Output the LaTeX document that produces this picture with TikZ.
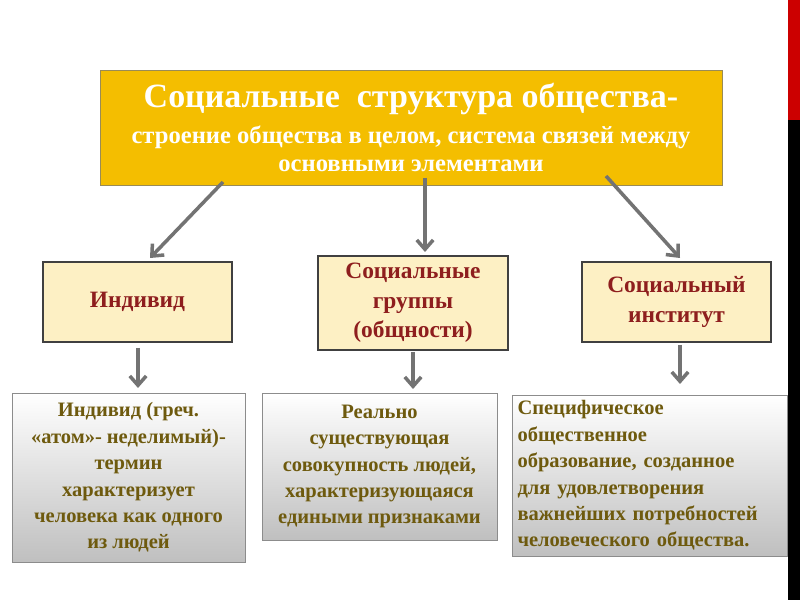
\documentclass[tikz,border=0pt]{standalone}
\usepackage{fontspec}
\setmainfont{Liberation Serif}
\usetikzlibrary{arrows.meta}
\definecolor{gold}{HTML}{F4BE00}
\definecolor{cream}{HTML}{FDF0C4}
\definecolor{wine}{HTML}{8E1E1E}
\definecolor{olive}{HTML}{6E5A0E}
\definecolor{arrowgray}{HTML}{737373}
\tikzset{
  head/.style={draw=olive!70, line width=0.8pt, fill=gold, text=white, font=\bfseries\fontsize{21}{24}\selectfont, align=center, inner sep=0pt},
  part/.style={draw=black!75, line width=1pt, fill=cream, text=wine, font=\bfseries\fontsize{20}{25}\selectfont, align=center, inner sep=0pt},
  note/.style={draw=black!45, line width=0.6pt, top color=white, bottom color=black!25, text=olive, font=\bfseries\fontsize{17.5}{22.5}\selectfont, inner sep=0pt},
  link/.style={draw=arrowgray, line width=3pt, -{Straight Barb[length=8pt,width=14pt]}}
}
\begin{document}
\begin{tikzpicture}[x=0.03cm, y=-0.03cm]
\useasboundingbox (0,0) rectangle (800,600);
\fill[white] (0,0) rectangle (800,600);
\fill[red!80!black] (788,0) rectangle (800,120);
\fill[black] (788,120) rectangle (800,600);

% boxes
\node[head, minimum width=622*0.03cm, minimum height=115*0.03cm] (top) at (411,127.5)
  {{\fontsize{29}{24}\selectfont Социальные\ \ структура общества-}\\[6pt]
   строение общества в целом, система связей между\\
   основными элементами};
\node[part, minimum width=189*0.03cm, minimum height=80*0.03cm] (ind) at (137.5,302) {Индивид};
\node[part, minimum width=190*0.03cm, minimum height=94*0.03cm] (grp) at (413,303) {Социальные\\группы\\(общности)};
\node[part, minimum width=189*0.03cm, minimum height=80*0.03cm] (ins) at (676.5,302) {Социальный\\институт};

\node[note, minimum width=233*0.03cm, minimum height=169*0.03cm, align=center] (indtx) at (128.5,477.5)
  {Индивид (греч.\\«атом»- неделимый)-\\термин\\характеризует\\человека как одного\\из людей};
\node[note, minimum width=235*0.03cm, minimum height=147*0.03cm, align=center] (grptx) at (379.5,466.5)
  {Реально\\существующая\\совокупность людей,\\характеризующаяся\\едиными признаками};
\node[note, minimum width=275*0.03cm, minimum height=161*0.03cm, align=left, text width=264*0.03cm] (instx) at (649.5,475.5)
  {Специфическое\\общественное\\образование, созданное\\для удовлетворения\\важнейших потребностей\\человеческого общества.};

% arrows
\coordinate (t1) at (223,182);
\coordinate (t2) at (425,178);
\coordinate (t3) at (606,176);
\coordinate (e1) at (150,258);
\coordinate (e2) at (425,252);
\coordinate (e3) at (680,258);
\coordinate (d1) at (138,348);
\coordinate (f1) at (138,388);
\coordinate (d2) at (413,352);
\coordinate (f2) at (413,389);
\coordinate (d3) at (680,345);
\coordinate (f3) at (680,384);
\draw[link] (t1) -- (e1);
\draw[link] (t2) -- (e2);
\draw[link] (t3) -- (e3);
\draw[link] (d1) -- (f1);
\draw[link] (d2) -- (f2);
\draw[link] (d3) -- (f3);
\end{tikzpicture}
\end{document}
